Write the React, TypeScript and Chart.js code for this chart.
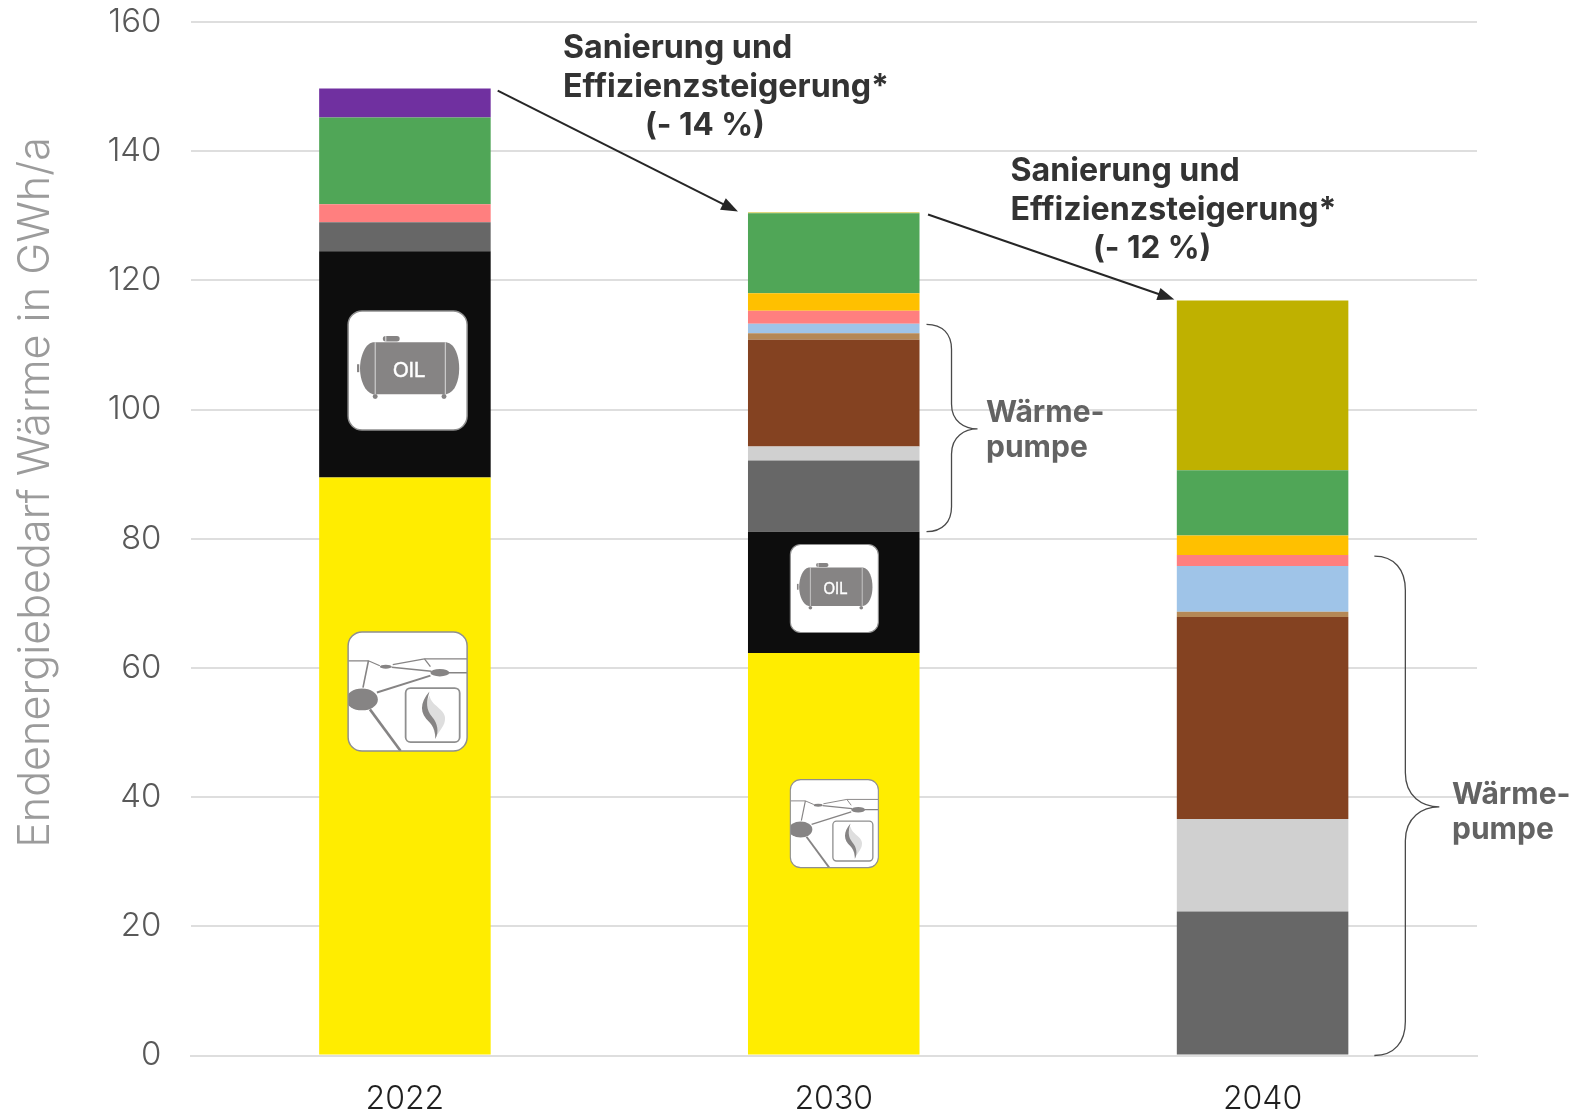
import React, { useEffect, useRef } from "react";
import { Chart, registerables } from "chart.js";

Chart.register(...registerables);

const years = ["2022", "2030", "2040"];
const yTicks = [0, 20, 40, 60, 80, 100, 120, 140, 160];
const yAxisTitle = "Endenergiebedarf Wärme in GWh/a";

// Heat demand per supply type in GWh/a, stacked bottom to top
const gasNetwork = [89.5, 62.3, 0];
const heatingOil = [35.0, 18.8, 0];
const darkGrey = [4.5, 11.0, 22.3];
const lightGrey = [0, 2.2, 14.3];
const brown = [0, 16.5, 31.3];
const tan = [0, 1.0, 0.8];
const lightBlue = [0, 1.5, 7.1];
const pink = [2.8, 2.0, 1.7];
const amber = [0, 2.7, 3.0];
const green = [13.4, 12.4, 10.1];
const olive = [0, 0.1, 26.3];
const purple = [4.5, 0, 0];

const FONT = "Inter, 'Noto Sans', sans-serif";

const savingsLabels = [
  { lines: ["Sanierung und", "Effizienzsteigerung*", "(- 14 %)"], from: 0, to: 1, startGap: 7, endGap: 10, left: 563, lastLeft: 645, top: 48.5 },
  { lines: ["Sanierung und", "Effizienzsteigerung*", "(- 12 %)"], from: 1, to: 2, startGap: 8.5, endGap: 2.5, left: 1010.5, lastLeft: 1093, top: 171.5 },
];

// Brace spans in GWh/a for the heat pump share of each year
const braces = [
  { index: 1, top: 113.2, bottom: 81.1, tipValue: 97, gap: 7, bulge: 25, point: 26, bend: 25, textLeft: 986, textY: 412.5 },
  { index: 2, top: 77.3, bottom: 0, tipValue: 38.5, gap: 26, bulge: 31, point: 34, bend: 34, textLeft: 1452, textY: 795 },
];

const icons = [
  { kind: "oil", index: 0, value: 106.05, size: 119, dx: 2.7 },
  { kind: "gas", index: 0, value: 56.35, size: 119, dx: 2.7 },
  { kind: "oil", index: 1, value: 72.3, size: 88, dx: 0.6 },
  { kind: "gas", index: 1, value: 35.9, size: 88, dx: 0.6 },
];

const ICON_GREY = "#868484";

function roundedBox(ctx: CanvasRenderingContext2D, x: number, y: number, w: number, h: number, r: number) {
  ctx.beginPath();
  ctx.roundRect(x, y, w, h, r);
}

function segment(ctx: CanvasRenderingContext2D, pts: number[][], width: number) {
  ctx.lineWidth = width;
  ctx.beginPath();
  pts.forEach(([x, y], i) => (i ? ctx.lineTo(x, y) : ctx.moveTo(x, y)));
  ctx.stroke();
}

// Both pictograms are laid out on a 120 unit square
function drawOilIcon(ctx: CanvasRenderingContext2D) {
  ctx.fillStyle = ICON_GREY;
  ctx.beginPath();
  ctx.moveTo(25, 31.5);
  ctx.lineTo(99, 31.5);
  ctx.bezierCurveTo(108, 33, 112, 46, 112, 58);
  ctx.bezierCurveTo(112, 70, 108, 82, 99, 84);
  ctx.lineTo(25, 84);
  ctx.bezierCurveTo(17, 82, 12, 70, 12, 58);
  ctx.bezierCurveTo(12, 46, 17, 33, 25, 31.5);
  ctx.fill();
  roundedBox(ctx, 35, 25.2, 17, 5.6, 2.8);
  ctx.fill();
  ctx.fillRect(9, 53.7, 2.2, 8);
  for (const x of [27.3, 96.7]) {
    ctx.beginPath();
    ctx.arc(x, 86.3, 2.5, 0, Math.PI * 2);
    ctx.fill();
  }
  ctx.strokeStyle = "#dcdcdc";
  segment(ctx, [[27.3, 31.5], [27.3, 84]], 1);
  segment(ctx, [[98, 31.5], [98, 84]], 1);
  ctx.strokeStyle = "#ffffff";
  segment(ctx, [[38, 25.2], [38, 30.8]], 0.8);
  ctx.save();
  ctx.translate(61.5, 60.5);
  ctx.scale(0.88, 1);
  ctx.fillStyle = "#ffffff";
  ctx.strokeStyle = "#ffffff";
  ctx.lineWidth = 0.5;
  ctx.font = "23px 'Liberation Sans', sans-serif";
  ctx.textAlign = "center";
  ctx.textBaseline = "middle";
  ctx.fillText("OIL", 0, 0);
  ctx.strokeText("OIL", 0, 0);
  ctx.restore();
}

function drawGasIcon(ctx: CanvasRenderingContext2D) {
  ctx.save();
  roundedBox(ctx, 0, 0, 120, 120, 14);
  ctx.clip();
  ctx.strokeStyle = ICON_GREY;
  ctx.fillStyle = ICON_GREY;
  segment(ctx, [[0, 29], [20.5, 29], [32, 34]], 1.3);
  segment(ctx, [[45, 33], [77, 27], [120, 27]], 1.3);
  segment(ctx, [[77, 27], [83, 35]], 1.3);
  segment(ctx, [[44, 35.5], [84, 39.5]], 1.6);
  segment(ctx, [[101, 41], [120, 41]], 1.6);
  segment(ctx, [[20.5, 29], [15, 56]], 1.6);
  segment(ctx, [[29, 61], [83, 44]], 2);
  segment(ctx, [[22, 78], [53, 120]], 2.6);
  const nodes = [[38, 35, 6, 2], [92.5, 41, 9.5, 3.8], [14, 68, 16, 11]];
  for (const [x, y, rx, ry] of nodes) {
    ctx.beginPath();
    ctx.ellipse(x, y, rx, ry, 0, 0, Math.PI * 2);
    ctx.fill();
  }
  ctx.strokeStyle = "#8f8f8f";
  ctx.lineWidth = 1.8;
  roundedBox(ctx, 58, 56.5, 54.5, 54.5, 5);
  ctx.stroke();
  // Flame, dark outer swoosh with a pale inner tongue
  ctx.fillStyle = "#dedede";
  ctx.beginPath();
  ctx.moveTo(82, 64);
  ctx.bezierCurveTo(84, 76, 102, 78, 97, 92);
  ctx.bezierCurveTo(94, 99, 90, 102, 88, 108);
  ctx.bezierCurveTo(89, 96, 74, 82, 82, 64);
  ctx.fill();
  ctx.fillStyle = ICON_GREY;
  ctx.beginPath();
  ctx.moveTo(82, 60);
  ctx.bezierCurveTo(72, 72, 72, 82, 82, 91);
  ctx.bezierCurveTo(87, 96, 88, 102, 88, 108);
  ctx.bezierCurveTo(92, 100, 90, 92, 85, 86);
  ctx.bezierCurveTo(78, 78, 79, 70, 82, 60);
  ctx.fill();
  ctx.restore();
}

function drawBrace(ctx: CanvasRenderingContext2D, x: number, top: number, bottom: number, tip: number, bulge: number, point: number, bend: number) {
  const spine = x + bulge;
  const end = spine + point;
  ctx.beginPath();
  ctx.moveTo(x, top);
  ctx.bezierCurveTo(spine - bulge * 0.35, top, spine, top + bend * 0.4, spine, top + bend);
  ctx.lineTo(spine, tip - bend);
  ctx.bezierCurveTo(spine, tip - bend * 0.3, spine + point * 0.5, tip, end, tip);
  ctx.bezierCurveTo(spine + point * 0.5, tip, spine, tip + bend * 0.3, spine, tip + bend);
  ctx.lineTo(spine, bottom - bend);
  ctx.bezierCurveTo(spine, bottom - bend * 0.4, spine - bulge * 0.35, bottom, x, bottom);
  ctx.stroke();
}

function drawArrow(ctx: CanvasRenderingContext2D, x1: number, y1: number, x2: number, y2: number) {
  const angle = Math.atan2(y2 - y1, x2 - x1);
  const len = 18;
  const spread = 0.36;
  ctx.beginPath();
  ctx.moveTo(x1, y1);
  ctx.lineTo(x2 - Math.cos(angle) * len * 0.8, y2 - Math.sin(angle) * len * 0.8);
  ctx.stroke();
  ctx.beginPath();
  ctx.moveTo(x2, y2);
  ctx.lineTo(x2 - len * Math.cos(angle - spread), y2 - len * Math.sin(angle - spread));
  ctx.lineTo(x2 - len * Math.cos(angle + spread), y2 - len * Math.sin(angle + spread));
  ctx.closePath();
  ctx.fill();
}

const annotations = {
  id: "annotations",
  afterDatasetsDraw(chart: Chart) {
    const { ctx } = chart;
    const xs = chart.scales.x;
    const ys = chart.scales.y;
    const stackTotal = (i: number) =>
      chart.data.datasets.reduce((sum, d) => sum + ((d.data[i] as number) || 0), 0);
    const halfBar = (chart.getDatasetMeta(0).data[0] as any).width / 2;

    ctx.save();

    // Axis title, set above the middle of the plot
    ctx.save();
    ctx.translate(36, 492.5);
    ctx.rotate(-Math.PI / 2);
    ctx.fillStyle = "#9B9B9B";
    ctx.font = `300 43.1px ${FONT}`;
    ctx.textAlign = "center";
    ctx.textBaseline = "middle";
    ctx.fillText(yAxisTitle, 0, 0);
    ctx.restore();

    // Pictograms on the gas and oil segments
    for (const icon of icons) {
      const cx = xs.getPixelForValue(icon.index) + icon.dx;
      const cy = ys.getPixelForValue(icon.value);
      ctx.save();
      ctx.translate(cx - icon.size / 2, cy - icon.size / 2);
      ctx.scale(icon.size / 120, icon.size / 120);
      ctx.fillStyle = "#ffffff";
      roundedBox(ctx, 0, 0, 120, 120, 14);
      ctx.fill();
      if (icon.kind === "oil") drawOilIcon(ctx);
      else drawGasIcon(ctx);
      ctx.strokeStyle = "#8f8f8f";
      ctx.lineWidth = 1.5;
      roundedBox(ctx, 0, 0, 120, 120, 14);
      ctx.stroke();
      ctx.restore();
    }

    // Arrows from one stack top to the next, with the savings text
    ctx.textBaseline = "middle";
    for (const label of savingsLabels) {
      ctx.strokeStyle = "#262626";
      ctx.fillStyle = "#262626";
      ctx.lineWidth = 2;
      drawArrow(
        ctx,
        xs.getPixelForValue(label.from) + halfBar + label.startGap,
        ys.getPixelForValue(stackTotal(label.from)) + 2,
        xs.getPixelForValue(label.to) - halfBar - label.endGap,
        ys.getPixelForValue(stackTotal(label.to)) - 1
      );
      ctx.fillStyle = "#333333";
      ctx.textAlign = "left";
      label.lines.forEach((line, i) => {
        ctx.font = `700 ${i === 2 ? 31.4 : 32.2}px ${FONT}`;
        ctx.fillText(line, i === 2 ? label.lastLeft : label.left, label.top + i * 38.6);
      });
    }

    // Braces marking the heat pump share
    for (const brace of braces) {
      const x = xs.getPixelForValue(brace.index) + halfBar + brace.gap;
      ctx.strokeStyle = "#4a4a4a";
      ctx.lineWidth = 1.3;
      drawBrace(
        ctx,
        x,
        ys.getPixelForValue(brace.top),
        ys.getPixelForValue(brace.bottom),
        ys.getPixelForValue(brace.tipValue),
        brace.bulge,
        brace.point,
        brace.bend
      );
      ctx.fillStyle = "#636363";
      ctx.font = `700 30px ${FONT}`;
      ctx.fillText("Wärme-", brace.textLeft, brace.textY);
      ctx.fillText("pumpe", brace.textLeft, brace.textY + 35);
    }
    ctx.restore();
  },
};

export default function App() {
  const canvasRef = useRef<HTMLCanvasElement>(null);

  useEffect(() => {
    const series = [
      { data: gasNetwork, backgroundColor: "#FFED00" },
      { data: heatingOil, backgroundColor: "#0D0D0D" },
      { data: darkGrey, backgroundColor: "#676767" },
      { data: lightGrey, backgroundColor: "#D0D0D0" },
      { data: brown, backgroundColor: "#844221" },
      { data: tan, backgroundColor: "#B58856" },
      { data: lightBlue, backgroundColor: "#9FC4E8" },
      { data: pink, backgroundColor: "#FF7F7F" },
      { data: amber, backgroundColor: "#FFC000" },
      { data: green, backgroundColor: "#50A657" },
      { data: olive, backgroundColor: "#BFB100" },
      { data: purple, backgroundColor: "#7030A0" },
    ];
    const chart = new Chart(canvasRef.current!, {
      type: "bar",
      data: {
        labels: years,
        datasets: series.map((s) => ({
          ...s,
          borderWidth: 0,
          barPercentage: 0.4,
          categoryPercentage: 1,
        })),
      },
      plugins: [annotations],
      options: {
        animation: false,
        responsive: false,
        layout: { padding: { left: 0, top: 22, right: 101, bottom: 0 } },
        plugins: { legend: { display: false }, tooltip: { enabled: false } },
        scales: {
          x: {
            stacked: true,
            grid: { display: false },
            border: { display: true, color: "#DEDEDE", width: 2 },
            ticks: {
              color: "#1f1f1f",
              padding: 17,
              font: { family: FONT, size: 32, weight: 300 },
            },
            afterFit: (scale: any) => {
              scale.height = 1113 - 1055.5;
            },
          },
          y: {
            stacked: true,
            min: 0,
            max: 160,
            afterBuildTicks: (scale: any) => {
              scale.ticks = yTicks.map((value) => ({ value }));
            },
            grid: { color: "#DEDEDE", lineWidth: 2, drawTicks: false },
            border: { display: false },
            ticks: {
              color: "#595959",
              padding: 29,
              font: { family: FONT, size: 33, weight: 300 },
            },
            afterFit: (scale: any) => {
              scale.width = 190.5;
              scale.paddingTop = 0;
              scale.paddingBottom = 0;
            },
          },
        },
      },
    } as any);
    return () => chart.destroy();
  }, []);

  return (
    <div style={{ position: "absolute", left: 0, top: 0, width: 1578, height: 1113, background: "#fff" }}>
      <canvas ref={canvasRef} width={1578} height={1113} style={{ display: "block" }} />
    </div>
  );
}
